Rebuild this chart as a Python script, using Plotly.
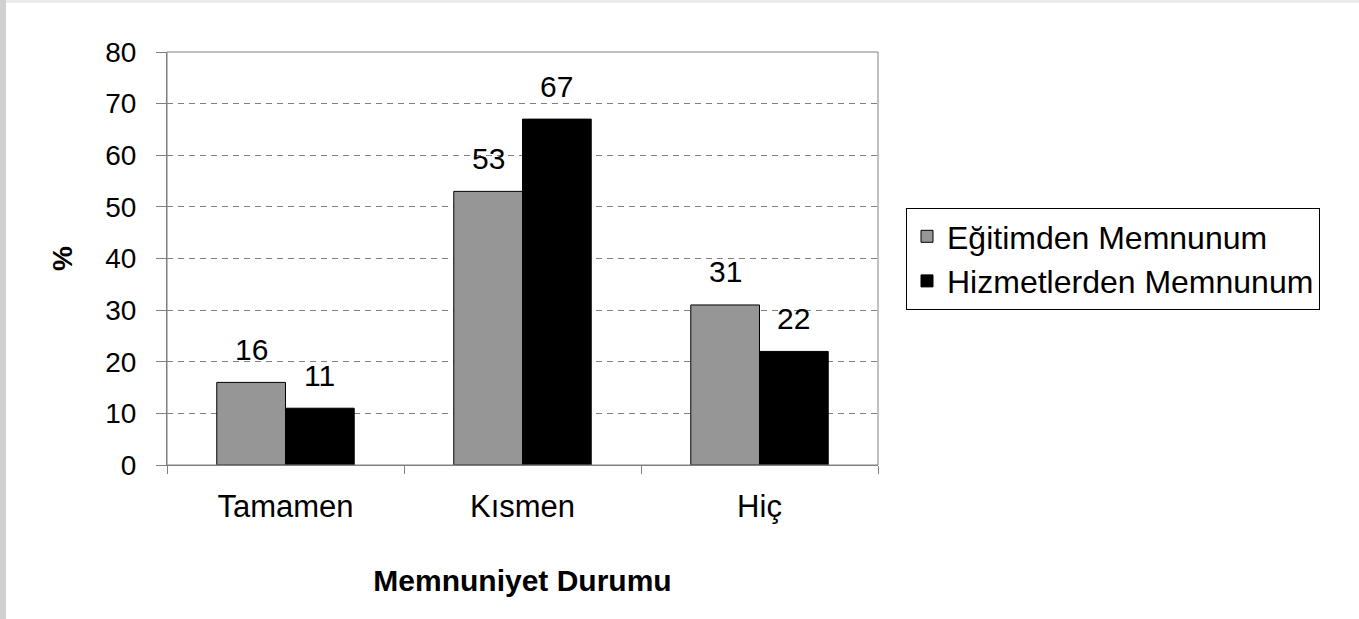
import plotly.graph_objects as go

categories = ["Tamamen", "Kısmen", "Hiç"]
egitim = [16, 53, 31]
hizmet = [11, 67, 22]
series_names = ["Eğitimden Memnunum", "Hizmetlerden Memnunum"]
y_ticks = [0, 10, 20, 30, 40, 50, 60, 70, 80]

W, H = 1359, 619
L, R, T, B = 167, 481, 52, 154
plot_w = W - L - R
plot_h = H - T - B
bargap = 0.42
bar_px = plot_w / len(categories) * (1 - bargap) / 2

FONT = "Arial, Liberation Sans, sans-serif"

fig = go.Figure()
fig.add_trace(go.Bar(x=categories, y=egitim, name=series_names[0],
                     marker=dict(color="#969696", line=dict(color="black", width=1))))
fig.add_trace(go.Bar(x=categories, y=hizmet, name=series_names[1],
                     marker=dict(color="#000000", line=dict(color="black", width=1))))

annotations = []
for vals, sh in ((egitim, -bar_px / 2), (hizmet, bar_px / 2)):
    for c, v in zip(categories, vals):
        annotations.append(dict(x=c, y=v, xref="x", yref="y", text=str(v),
                                showarrow=False, xshift=sh, yshift=33,
                                yanchor="middle", font=dict(size=30, color="black", family=FONT)))


def px_to_paper_x(px):
    return (px - L) / plot_w


def px_to_paper_y(py):
    return (H - B - py) / plot_h


shapes = [
    dict(type="rect", xref="paper", yref="paper", layer="below",
         x0=px_to_paper_x(0), x1=px_to_paper_x(6), y0=px_to_paper_y(H), y1=px_to_paper_y(0),
         fillcolor="#d0d0d0", line=dict(width=0)),
    dict(type="rect", xref="paper", yref="paper", layer="below",
         x0=px_to_paper_x(6), x1=px_to_paper_x(W), y0=px_to_paper_y(3), y1=px_to_paper_y(0),
         fillcolor="#ececec", line=dict(width=0)),
    dict(type="rect", xref="paper", yref="paper", x0=0, x1=1, y0=0, y1=1,
         line=dict(color="#808080", width=1)),
]

fig.update_layout(
    width=W, height=H,
    margin=dict(l=L, r=R, t=T, b=B, pad=0),
    paper_bgcolor="white", plot_bgcolor="white",
    barmode="group", bargap=bargap, bargroupgap=0,
    font=dict(family=FONT, size=28, color="black"),
    showlegend=True,
    legend=dict(x=px_to_paper_x(906), y=px_to_paper_y(208), xanchor="left", yanchor="top",
                bordercolor="black", borderwidth=1, bgcolor="white",
                font=dict(size=32, family=FONT), tracegroupgap=4),
    annotations=annotations,
    shapes=shapes,
    xaxis=dict(
        showline=True, linecolor="#808080", linewidth=1,
        ticks="outside", tickson="boundaries", ticklen=8, tickcolor="#808080",
        tickfont=dict(size=31), ticklabelstandoff=14, showgrid=False,
        title=dict(text="<b>Memnuniyet Durumu</b>", font=dict(size=30), standoff=46),
    ),
    yaxis=dict(
        range=[0, 80], tickvals=y_ticks, showline=True, linecolor="#808080", linewidth=1,
        ticks="outside", ticklen=10, tickcolor="#808080",
        tickfont=dict(size=28), ticklabelstandoff=14,
        showgrid=True, gridcolor="#808080", griddash="6px,5px", gridwidth=1,
        zeroline=False,
        title=dict(text="<b>%</b>", font=dict(size=28), standoff=24),
    ),
)

fig.write_html("out.html", config={"displayModeBar": False},
               post_script="document.body.style.margin='0';")
